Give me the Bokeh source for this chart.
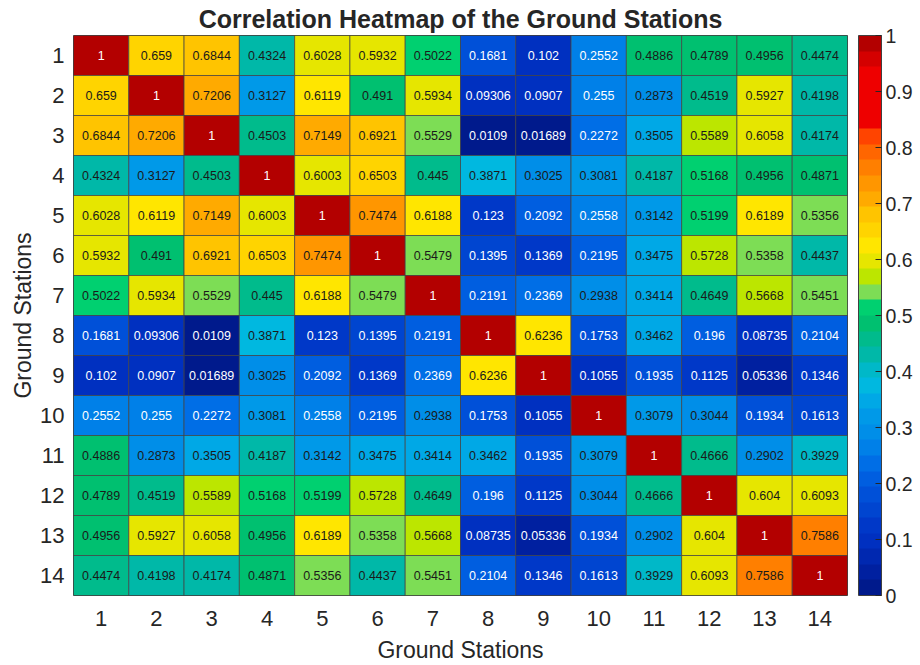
import numpy as np
from bokeh.plotting import figure
from bokeh.layouts import row
from bokeh.models import ColumnDataSource, LinearColorMapper, ColorBar, FixedTicker, Range1d, Spacer
from bokeh.core.properties import value
from bokeh.embed import file_html
from bokeh.resources import INLINE

stations = list(range(1, 15))
station_labels = [str(s) for s in stations]

corr = [
    [1, 0.659, 0.6844, 0.4324, 0.6028, 0.5932, 0.5022, 0.1681, 0.102, 0.2552, 0.4886, 0.4789, 0.4956, 0.4474],
    [0.659, 1, 0.7206, 0.3127, 0.6119, 0.491, 0.5934, 0.09306, 0.0907, 0.255, 0.2873, 0.4519, 0.5927, 0.4198],
    [0.6844, 0.7206, 1, 0.4503, 0.7149, 0.6921, 0.5529, 0.0109, 0.01689, 0.2272, 0.3505, 0.5589, 0.6058, 0.4174],
    [0.4324, 0.3127, 0.4503, 1, 0.6003, 0.6503, 0.445, 0.3871, 0.3025, 0.3081, 0.4187, 0.5168, 0.4956, 0.4871],
    [0.6028, 0.6119, 0.7149, 0.6003, 1, 0.7474, 0.6188, 0.123, 0.2092, 0.2558, 0.3142, 0.5199, 0.6189, 0.5356],
    [0.5932, 0.491, 0.6921, 0.6503, 0.7474, 1, 0.5479, 0.1395, 0.1369, 0.2195, 0.3475, 0.5728, 0.5358, 0.4437],
    [0.5022, 0.5934, 0.5529, 0.445, 0.6188, 0.5479, 1, 0.2191, 0.2369, 0.2938, 0.3414, 0.4649, 0.5668, 0.5451],
    [0.1681, 0.09306, 0.0109, 0.3871, 0.123, 0.1395, 0.2191, 1, 0.6236, 0.1753, 0.3462, 0.196, 0.08735, 0.2104],
    [0.102, 0.0907, 0.01689, 0.3025, 0.2092, 0.1369, 0.2369, 0.6236, 1, 0.1055, 0.1935, 0.1125, 0.05336, 0.1346],
    [0.2552, 0.255, 0.2272, 0.3081, 0.2558, 0.2195, 0.2938, 0.1753, 0.1055, 1, 0.3079, 0.3044, 0.1934, 0.1613],
    [0.4886, 0.2873, 0.3505, 0.4187, 0.3142, 0.3475, 0.3414, 0.3462, 0.1935, 0.3079, 1, 0.4666, 0.2902, 0.3929],
    [0.4789, 0.4519, 0.5589, 0.5168, 0.5199, 0.5728, 0.4649, 0.196, 0.1125, 0.3044, 0.4666, 1, 0.604, 0.6093],
    [0.4956, 0.5927, 0.6058, 0.4956, 0.6189, 0.5358, 0.5668, 0.08735, 0.05336, 0.1934, 0.2902, 0.604, 1, 0.7586],
    [0.4474, 0.4198, 0.4174, 0.4871, 0.5356, 0.4437, 0.5451, 0.2104, 0.1346, 0.1613, 0.3929, 0.6093, 0.7586, 1],
]

palette = [
    "#001a8c", "#0020a0", "#0028b0", "#0030c0", "#0038c8", "#0045d0",
    "#0050d8", "#005ee0", "#006ee6", "#0080e8", "#008ee8", "#0099e8",
    "#00a8e6", "#00b8e0", "#00b8c8", "#00b8a8", "#00bb8c", "#00c070",
    "#00d070", "#7ddd55", "#bce600", "#e6e600", "#ffe600", "#ffd400",
    "#ffc400", "#ffaa00", "#ff9600", "#ff7f00", "#ff6600", "#ff4400",
    "#ee0000", "#ee0000", "#ee0000", "#ee0000", "#d40000", "#b30000",
]

cbar_ticks = [0, 0.1, 0.2, 0.3, 0.4, 0.5, 0.6, 0.7, 0.8, 0.9, 1]

xs, ys, vs, labels, tcols = [], [], [], [], []
for i, r in enumerate(corr):
    for j, v in enumerate(r):
        xs.append(stations[j])
        ys.append(stations[i])
        vs.append(v)
        labels.append("%.4g" % v)
        tcols.append("#ffffff" if (v < 0.28 or v > 0.9) else "#1a1a1a")

src = ColumnDataSource(dict(x=xs, y=ys, v=vs, label=labels, tcol=tcols))

mapper = LinearColorMapper(palette=palette, low=0, high=1)

FONT = "Liberation Sans, Arial, sans-serif"

p = figure(
    frame_width=774, frame_height=560,
    x_range=Range1d(0.5, 14.5), y_range=Range1d(14.5, 0.5),
    output_backend="svg", toolbar_location=None,
    min_border_left=0, min_border_right=0, min_border_top=0, min_border_bottom=0,
    title="Correlation Heatmap of the Ground Stations",
)
p.title.align = "center"
p.title.text_font = FONT
p.title.text_font_size = "25px"
p.title.text_font_style = "bold"
p.title.text_color = "#262626"
p.title.standoff = 5

p.rect(x="x", y="y", width=1, height=1, source=src,
       fill_color={"field": "v", "transform": mapper},
       line_color="#404040", line_alpha=0.7, line_width=1)
p.text(x="x", y="y", text="label", source=src, text_color="tcol",
       text_align="center", text_baseline="middle",
       text_font=value("Liberation Sans"), text_font_size="12.5px")

p.grid.visible = False
p.outline_line_color = "#404040"

for ax in (p.xaxis[0], p.yaxis[0]):
    ax.ticker = FixedTicker(ticks=stations)
    ax.major_label_overrides = {s: l for s, l in zip(stations, station_labels)}
    ax.major_tick_line_color = None
    ax.minor_tick_line_color = None
    ax.major_tick_out = 0
    ax.major_tick_in = 0
    ax.minor_tick_out = 0
    ax.minor_tick_in = 0
    ax.axis_line_color = None
    ax.major_label_text_font = FONT
    ax.major_label_text_font_size = "22px"
    ax.major_label_text_color = "#262626"
    ax.axis_label = "Ground Stations"
    ax.axis_label_text_font = FONT
    ax.axis_label_text_font_size = "23px"
    ax.axis_label_text_font_style = "normal"
    ax.axis_label_text_color = "#262626"
p.xaxis.major_label_standoff = 15
p.yaxis.major_label_standoff = 9
p.xaxis.axis_label_standoff = 8
p.yaxis.axis_label_standoff = 1

cb = ColorBar(color_mapper=mapper, ticker=FixedTicker(ticks=cbar_ticks),
              width=23, padding=0, margin=0, location=(11, 0),
              major_label_text_font=FONT, major_label_text_font_size="19.5px",
              major_label_text_color="#262626",
              major_tick_in=6, major_tick_out=0, major_tick_line_color="#262626",
              minor_tick_line_color=None,
              bar_line_color="#404040", label_standoff=4,
              background_fill_alpha=0, border_line_color=None)
p.add_layout(cb, "right")

layout = row(Spacer(width=7, height=10), p)

open("out.html", "w").write(file_html(layout, INLINE))
